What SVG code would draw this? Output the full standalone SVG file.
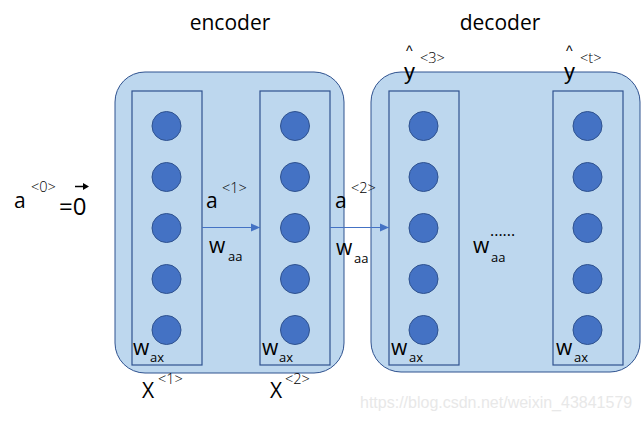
<svg xmlns="http://www.w3.org/2000/svg" width="641" height="421" viewBox="0 0 641 421">
<defs>
<style>
.outer{fill:#BDD7EE;stroke:#2F528F;stroke-width:1}
.inner{fill:none;stroke:#2F528F;stroke-width:1.2}
.node{fill:#4472C4;stroke:#2F528F;stroke-width:1}
.t{font-family:"Open Sans","Liberation Sans",sans-serif;fill:#000}
.big{font-size:21px}
.sub{font-size:13px}
.sup{font-size:14.5px;font-weight:300}
.title{font-size:21px}
.conn{stroke:#4472C4;stroke-width:1.2;fill:none}
</style>
<marker id="ah" markerWidth="10" markerHeight="10" refX="9" refY="5" orient="auto" markerUnits="userSpaceOnUse">
<path d="M0,1 L9,5 L0,9 Z" fill="#4472C4"/>
</marker>
<g id="col">
<circle class="node" cx="0" cy="126" r="14.5"/>
<circle class="node" cx="0" cy="177" r="14.5"/>
<circle class="node" cx="0" cy="228" r="14.5"/>
<circle class="node" cx="0" cy="279" r="14.5"/>
<circle class="node" cx="0" cy="330" r="14.5"/>
</g>
</defs>
<rect width="641" height="421" fill="#fff"/>
<text class="t title" x="230" y="30" text-anchor="middle">encoder</text>
<text class="t title" x="500" y="30" text-anchor="middle">decoder</text>
<g id="encoder">
<rect class="outer" x="115" y="72" width="229" height="301" rx="30"/>
</g>
<g id="decoder">
<rect class="outer" x="371" y="72" width="269" height="300" rx="30"/>
</g>
<g id="cell1">
<rect class="inner" x="132" y="91" width="70" height="274"/>
<use href="#col" x="166.5"/>
<text class="t big" x="133" y="355">w</text><text class="t sub" x="150" y="362">ax</text>
</g>
<g id="cell2">
<rect class="inner" x="260" y="91" width="70" height="274"/>
<use href="#col" x="295"/>
<text class="t big" x="262" y="355">w</text><text class="t sub" x="279" y="362">ax</text>
</g>
<g id="cell3">
<rect class="inner" x="389" y="91" width="70" height="274"/>
<use href="#col" x="423.5"/>
<text class="t big" x="391" y="355">w</text><text class="t sub" x="409" y="362">ax</text>
</g>
<g id="cell4">
<rect class="inner" x="553" y="91" width="70" height="274"/>
<use href="#col" x="587.5"/>
<text class="t big" x="556" y="355">w</text><text class="t sub" x="574" y="362">ax</text>
</g>
<g id="connectors">
<line class="conn" x1="202" y1="227.5" x2="260" y2="227.5" marker-end="url(#ah)"/>
<line class="conn" x1="330" y1="227.5" x2="389" y2="227.5" marker-end="url(#ah)"/>
</g>
<g id="labels">
<text class="t big" x="14" y="208">a</text><text class="t sup" x="31" y="192">&lt;0&gt;</text>
<text class="t" style="font-size:24px" x="59" y="215">=0</text>
<line x1="75" y1="186.5" x2="84" y2="186.5" stroke="#000" stroke-width="1.5"/>
<path d="M83,183 L89,186.5 L83,190 Z" fill="#000"/>
<text class="t big" x="206" y="208">a</text><text class="t sup" x="222" y="193">&lt;1&gt;</text>
<text class="t big" x="209" y="253">w</text><text class="t sub" x="228" y="261">aa</text>
<text class="t big" x="335" y="208">a</text><text class="t sup" x="351" y="193">&lt;2&gt;</text>
<text class="t big" x="336" y="255">w</text><text class="t sub" x="354" y="263">aa</text>
<text class="t" style="font-size:16px" x="490" y="236">......</text>
<text class="t big" x="473" y="253">w</text><text class="t sub" x="491" y="262">aa</text>
<text x="404" y="79" style="font-family:'Liberation Sans',sans-serif;font-size:22px">y</text><text x="406" y="56" style="font-family:'Liberation Sans',sans-serif;font-size:14px">^</text><text class="t sup" x="420" y="63">&lt;3&gt;</text>
<text x="564" y="79" style="font-family:'Liberation Sans',sans-serif;font-size:22px">y</text><text x="566" y="56" style="font-family:'Liberation Sans',sans-serif;font-size:14px">^</text><text class="t sup" x="580" y="63">&lt;t&gt;</text>
<text class="t big" x="142" y="398">X</text><text class="t sup" x="158" y="384">&lt;1&gt;</text>
<text class="t big" x="270" y="398">X</text><text class="t sup" x="285" y="384">&lt;2&gt;</text>
<text x="360" y="408" style="font-family:'Liberation Sans',sans-serif;font-size:16px;fill:#e8e8e8">https://blog.csdn.net/weixin_43841579</text>
</g>
</svg>
